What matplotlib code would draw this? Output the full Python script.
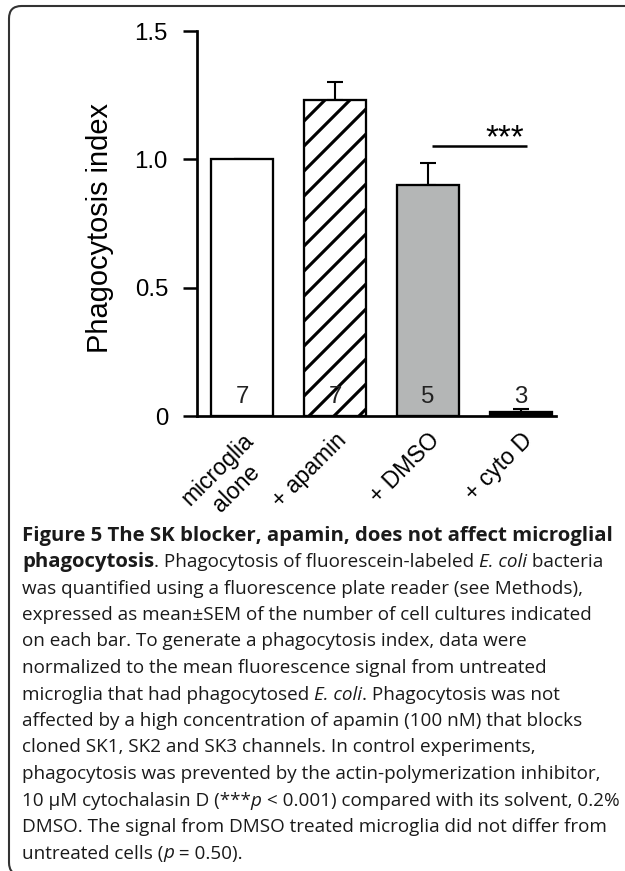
import matplotlib
matplotlib.use("Agg")
import matplotlib.pyplot as plt
from matplotlib.patches import FancyBboxPatch
import numpy as np

# data
groups = ["microglia\nalone", "+ apamin", "+ DMSO", "+ cyto D"]
index_mean = [1.0, 1.231, 0.90, 0.014]
index_sem = [0.0, 0.07, 0.084, 0.012]
n_cultures = [7, 7, 5, 3]
bar_colors = ["white", "white", "#b4b6b6", "black"]
bar_hatches = ["", "//", "", ""]
y_ticks = [0, 0.5, 1.0, 1.5]
y_ticklabels = ["0", "0.5", "1.0", "1.5"]
sig_pair = (2, 3)
sig_label = "***"

caption_lines = [
    [("Figure 5 The SK blocker, apamin, does not affect microglial", "b")],
    [("phagocytosis", "b"), (". Phagocytosis of fluorescein-labeled ", "n"),
     ("E. coli", "i"), (" bacteria", "n")],
    [("was quantified using a fluorescence plate reader (see Methods),", "n")],
    [("expressed as mean\u00b1SEM of the number of cell cultures indicated", "n")],
    [("on each bar. To generate a phagocytosis index, data were", "n")],
    [("normalized to the mean fluorescence signal from untreated", "n")],
    [("microglia that had phagocytosed ", "n"), ("E. coli", "i"),
     (". Phagocytosis was not", "n")],
    [("affected by a high concentration of apamin (100 nM) that blocks", "n")],
    [("cloned SK1, SK2 and SK3 channels. In control experiments,", "n")],
    [("phagocytosis was prevented by the actin-polymerization inhibitor,", "n")],
    [("10 \u03bcM cytochalasin D (***", "n"), ("p", "i"),
     (" < 0.001) compared with its solvent, 0.2%", "n")],
    [("DMSO. The signal from DMSO treated microglia did not differ from", "n")],
    [("untreated cells (", "n"), ("p", "i"), (" = 0.50).", "n")],
]

DPI = 150
W, H = 625, 871


def pt(px):
    return px * 72.0 / DPI


plt.rcParams["hatch.linewidth"] = 1.5
chart_font = ["Liberation Sans", "DejaVu Sans"]
cap_font = ["Open Sans", "DejaVu Sans"]

fig = plt.figure(figsize=(W / DPI, H / DPI), dpi=DPI)

# rounded frame, running off the right and bottom edges
frame = FancyBboxPatch((9 / W, -4 / H), 900 / W, (871 - 6 + 4) / H,
                       boxstyle="round,pad=0,rounding_size=0.02",
                       transform=fig.transFigure, fill=False,
                       edgecolor="#333333", linewidth=1.0,
                       mutation_aspect=W / H)
fig.patches.append(frame)

ax = fig.add_axes([197 / W, 1 - 416 / H, (556 - 197) / W, 385 / H])
x = np.arange(len(groups))
bars = ax.bar(x, index_mean, width=0.667, color=bar_colors,
              edgecolor="black", linewidth=1.1, zorder=2)
for b, h in zip(bars, bar_hatches):
    b.set_hatch(h)
ax.errorbar(x, index_mean, yerr=[np.zeros(len(x)), index_sem], fmt="none",
            ecolor="black", elinewidth=1.0, capsize=pt(8), capthick=1.0,
            zorder=1)

for xi, n in zip(x, n_cultures):
    ax.text(xi, 0.05, str(n), ha="center", va="baseline",
            fontsize=pt(24), family=chart_font, color="#222222", zorder=3)

ax.plot([sig_pair[0] + 0.04, sig_pair[1] + 0.06], [1.052, 1.052],
        color="black", lw=1.2, solid_capstyle="butt")
ax.text(sig_pair[1] + 0.03, 1.048, sig_label, ha="right", va="baseline",
        fontsize=pt(33), family=chart_font)

ax.set_xlim(-0.484, 3.376)
ax.set_ylim(0, 1.5)
ax.spines["top"].set_visible(False)
ax.spines["right"].set_visible(False)
for s in ("left", "bottom"):
    ax.spines[s].set_linewidth(1.3)

ax.set_yticks(y_ticks)
ax.set_yticklabels(y_ticklabels, fontsize=pt(24), family=chart_font)
ax.tick_params(axis="y", direction="out", length=pt(14), width=1.2,
               pad=pt(15))
ax.set_xticks(x)
ax.set_xticklabels(groups, fontsize=pt(23), family=chart_font, rotation=45,
                   ha="right", va="top", rotation_mode="anchor",
                   multialignment="center")
ax.tick_params(axis="x", length=0, pad=pt(13))

ax.set_ylabel("Phagocytosis index", fontsize=pt(29), family=chart_font,
              va="center")
ax.yaxis.set_label_coords(-0.27, 0.488)

# caption, drawn run by run
fig.canvas.draw()
renderer = fig.canvas.get_renderer()
styles = {"n": ("normal", "normal"), "b": ("bold", "normal"),
          "i": ("normal", "italic")}
sizes = {"n": pt(18.9), "b": pt(20.4), "i": pt(18.9)}


def run_width(txt, weight, style, size):
    t1 = fig.text(0, 0, "|" + txt + "|", fontsize=size, family=cap_font,
                  fontweight=weight, fontstyle=style)
    t2 = fig.text(0, 0, "||", fontsize=size, family=cap_font,
                  fontweight=weight, fontstyle=style)
    w = t1.get_window_extent(renderer).width - t2.get_window_extent(renderer).width
    t1.remove()
    t2.remove()
    return w


base0 = 540.5
step = 26.5
for i, line in enumerate(caption_lines):
    xpx = 22
    ypx = base0 + i * step
    for txt, st in line:
        weight, style = styles[st]
        fig.text(xpx / W, 1 - ypx / H, txt, fontsize=sizes[st], family=cap_font,
                 fontweight=weight, fontstyle=style, va="baseline",
                 color="#1a1a1a")
        xpx += run_width(txt, weight, style, sizes[st])

fig.savefig("out.png", dpi=DPI)
